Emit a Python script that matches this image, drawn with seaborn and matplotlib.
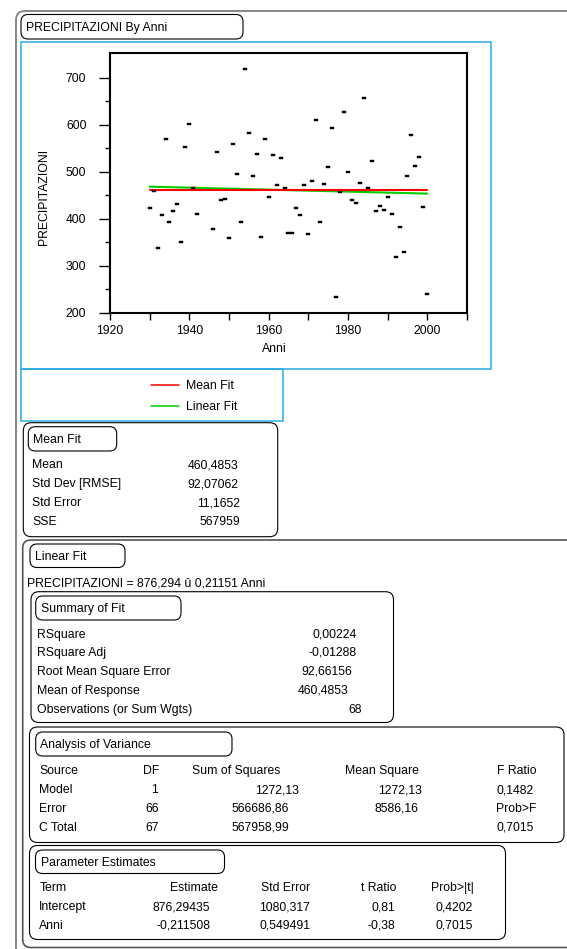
import numpy as np
import pandas as pd
import matplotlib
matplotlib.use("Agg")
import matplotlib.pyplot as plt
from matplotlib.patches import FancyBboxPatch, Rectangle
import seaborn as sns

# ---------------- data ----------------
years = [1930, 1931, 1932, 1933, 1934, 1935, 1936, 1937, 1938, 1939, 1940, 1941, 1942,
         1946, 1947, 1948, 1949, 1950, 1951, 1952, 1953, 1954, 1955, 1956, 1957, 1958,
         1959, 1960, 1961, 1962, 1963, 1964, 1965, 1966, 1967, 1968, 1969, 1970, 1971,
         1972, 1973, 1974, 1975, 1976, 1977, 1978, 1979, 1980, 1981, 1982, 1983, 1984,
         1985, 1986, 1987, 1988, 1989, 1990, 1991, 1992, 1993, 1994, 1995, 1996, 1997,
         1998, 1999, 2000]
precip = [422, 458, 337, 407, 569, 392, 416, 431, 350, 552, 601, 465, 409,
          377, 541, 439, 441, 358, 558, 494, 392, 718, 582, 491, 537, 360,
          570, 446, 535, 471, 529, 465, 369, 369, 422, 407, 471, 367, 480,
          609, 392, 473, 509, 592, 233, 456, 626, 499, 439, 433, 475, 656,
          465, 522, 416, 426, 418, 446, 409, 318, 382, 329, 490, 577, 512,
          531, 424, 239]

mean_fit = 460.4853
lin_intercept = 876.294
lin_slope = -0.21151
fit_range = [1930, 2000]

x_ticks = [1920, 1930, 1940, 1950, 1960, 1970, 1980, 1990, 2000, 2010]
x_ticklabels = ["1920", "", "1940", "", "1960", "", "1980", "", "2000", ""]
y_ticks = [200, 300, 400, 500, 600, 700]
y_minor = [250, 350, 450, 550, 650]

title_text = "PRECIPITAZIONI By Anni"
legend_labels = ["Mean Fit", "Linear Fit"]

meanfit_labels = ["Mean", "Std Dev [RMSE]", "Std Error", "SSE"]
meanfit_values = ["460,4853", "92,07062", "11,1652", "567959"]

equation = "PRECIPITAZIONI = 876,294 û 0,21151 Anni"

summary_labels = ["RSquare", "RSquare Adj", "Root Mean Square Error",
                  "Mean of Response", "Observations (or Sum Wgts)"]
summary_values = ["0,00224", "-0,01288", "92,66156", "460,4853", "68"]

anova_header = ["Source", "DF", "Sum of Squares", "Mean Square", "F Ratio"]
anova_rows = [["Model", "1", "1272,13", "1272,13", "0,1482"],
              ["Error", "66", "566686,86", "8586,16", "Prob>F"],
              ["C Total", "67", "567958,99", "", "0,7015"]]

param_header = ["Term", "Estimate", "Std Error", "t Ratio", "Prob>|t|"]
param_rows = [["Intercept", "876,29435", "1080,317", "0,81", "0,4202"],
              ["Anni", "-0,211508", "0,549491", "-0,38", "0,7015"]]

# ---------------- style ----------------
sns.set_theme(style="ticks")
plt.rcParams["font.family"] = ["Liberation Sans", "DejaVu Sans"]
for k in ["text.color", "axes.labelcolor", "xtick.color", "ytick.color", "axes.edgecolor"]:
    plt.rcParams[k] = "black"

W, H = 567, 949
FS = 8.8
BLUE = "#29abe2"

fig = plt.figure(figsize=(W / 100, H / 100), dpi=100)
fig.patch.set_facecolor("white")

bg = fig.add_axes([0, 0, 1, 1])
bg.set_xlim(0, W)
bg.set_ylim(H, 0)
bg.axis("off")


def rbox(x0, y0, x1, y1, r=7, ec="black", lw=0.8):
    p = FancyBboxPatch((x0, y0), x1 - x0, y1 - y0,
                       boxstyle=f"round,pad=0,rounding_size={r}",
                       fc="none", ec=ec, lw=lw)
    bg.add_patch(p)


def rect(x0, y0, x1, y1, ec=BLUE, lw=1.1):
    bg.add_patch(Rectangle((x0, y0), x1 - x0, y1 - y0, fc="none", ec=ec, lw=lw))


def txt(x, y, s, ha="left"):
    bg.text(x, y + 4.3, s, ha=ha, va="baseline", fontsize=FS)


# outer frames
rbox(16, 11, 640, 1000, r=9, ec="#888888", lw=1.4)
rbox(21, 14.5, 243, 39, r=7)
txt(26.5, 27, title_text)

rect(21, 42, 491, 369)
rect(21, 369, 283, 421)

# legend
bg.plot([151, 179], [384.5, 384.5], color="#ff0000", lw=1.1)
bg.plot([151, 179], [406, 406], color="#00cc00", lw=1.1)
txt(186.5, 384.5, legend_labels[0])
txt(186.5, 406, legend_labels[1])

# Mean Fit box
rbox(23.3, 422.7, 277.7, 536.7, r=8)
rbox(28.3, 426.7, 116.7, 451, r=7)
txt(33, 439, "Mean Fit")
rows_y = [464, 483, 501.7, 520.7]
val_x = [238.3, 238.3, 240, 240]
for lab, val, y, vx in zip(meanfit_labels, meanfit_values, rows_y, val_x):
    txt(32, y, lab)
    txt(vx, y, val, ha="right")

# Linear Fit box
rbox(22.7, 540, 640, 947.5, r=8, ec="#555555", lw=1.2)
rbox(30, 544, 125, 567.5, r=7)
txt(35, 555.5, "Linear Fit")
txt(27, 582.3, equation)

# Summary of Fit
rbox(31, 591.7, 393.5, 722.5, r=8)
rbox(35.7, 596, 181, 620, r=7)
txt(41, 608, "Summary of Fit")
srows = [633.3, 651.5, 670.3, 689.3, 708.3]
svx = [356.7, 356.7, 352.3, 348.3, 362.3]
for lab, val, y, vx in zip(summary_labels, summary_values, srows, svx):
    txt(37, y, lab)
    txt(vx, y, val, ha="right")

# Analysis of Variance
rbox(29.5, 727, 564, 842.5, r=8)
rbox(35.7, 732, 232, 756, r=7)
txt(40.5, 744, "Analysis of Variance")
ay = [770, 789, 807.5, 826.5]
txt(39, ay[0], anova_header[0])
txt(159.5, ay[0], anova_header[1], ha="right")
txt(192, ay[0], anova_header[2])
txt(345, ay[0], anova_header[3])
txt(536.4, ay[0], anova_header[4], ha="right")
anova_x = [None, [158, 159, 159], [299.5, 289, 289], [421.8, 418.3, 418.3], [533.6, 536.4, 533.6]]
for i, row in enumerate(anova_rows):
    y = ay[i + 1]
    txt(39, y, row[0])
    for c in range(1, 5):
        if row[c]:
            txt(anova_x[c][i], y, row[c], ha="right")

# Parameter Estimates
rbox(29.5, 845.5, 505.5, 939.5, r=8)
rbox(35.5, 850, 224.5, 873.5, r=7)
txt(41, 861.7, "Parameter Estimates")
py = [886.7, 905.7, 924.3]
txt(39.3, py[0], param_header[0])
hdr_x = [218.3, 310, 396.7, 474.3]
for c in range(1, 5):
    txt(hdr_x[c - 1], py[0], param_header[c], ha="right")
val_px = [210.2, 310, 395.6, 472.7]
for i, row in enumerate(param_rows):
    y = py[i + 1]
    txt(39.3, y, row[0])
    for c in range(1, 5):
        txt(val_px[c - 1], y, row[c], ha="right")

# ---------------- scatter plot ----------------
ax_l, ax_r, ax_t, ax_b = 110, 467, 52.7, 312.7
ax = fig.add_axes([ax_l / W, 1 - ax_b / H, (ax_r - ax_l) / W, (ax_b - ax_t) / H])
ax.set_facecolor("white")

df = pd.DataFrame({"Anni": years, "PRECIPITAZIONI": precip})
fit_df = pd.DataFrame({
    "Anni": fit_range * 2,
    "y": [mean_fit, mean_fit] + [lin_intercept + lin_slope * v for v in fit_range],
    "fit": ["Mean Fit", "Mean Fit", "Linear Fit", "Linear Fit"],
})

sns.lineplot(data=fit_df[fit_df.fit == "Linear Fit"], x="Anni", y="y", color="#00cc00",
             lw=1.5, ax=ax, legend=False)
sns.lineplot(data=fit_df[fit_df.fit == "Mean Fit"], x="Anni", y="y", color="#ff0000",
             lw=1.5, ax=ax, legend=False)

sq = [(-1.4, -1), (1.4, -1), (1.4, 1), (-1.4, 1), (-1.4, -1)]
sns.scatterplot(data=df, x="Anni", y="PRECIPITAZIONI", marker=sq, s=7,
                color="black", edgecolor="black", linewidth=0.3, ax=ax, zorder=5)

ax.set_xlim(1920, 2010)
ax.set_ylim(200, 753)
ax.set_xticks(x_ticks)
ax.set_xticklabels(x_ticklabels)
ax.set_yticks(y_ticks)
ax.set_yticks(y_minor, minor=True)
ax.tick_params(axis="x", which="major", length=4.8, width=1.0, pad=4, labelsize=FS, direction="out", bottom=True)
ax.tick_params(axis="y", which="major", length=8, width=1.0, pad=9, labelsize=FS, direction="out", left=True)
ax.tick_params(axis="y", which="minor", length=3.6, width=1.0, direction="out", left=True)
for sp in ax.spines.values():
    sp.set_visible(True)
    sp.set_linewidth(1.5)
    sp.set_color("black")

ax.set_xlabel("Anni", fontsize=FS, ha="center", va="top")
ax.xaxis.set_label_coords((274.5 - ax_l) / (ax_r - ax_l), (ax_b - 342.5) / (ax_b - ax_t))
ax.set_ylabel("PRECIPITAZIONI", fontsize=FS)
ax.yaxis.set_label_coords((50 - ax_l) / (ax_r - ax_l), (ax_b - 197) / (ax_b - ax_t))

fig.savefig("out.png", dpi=100, facecolor="white")
